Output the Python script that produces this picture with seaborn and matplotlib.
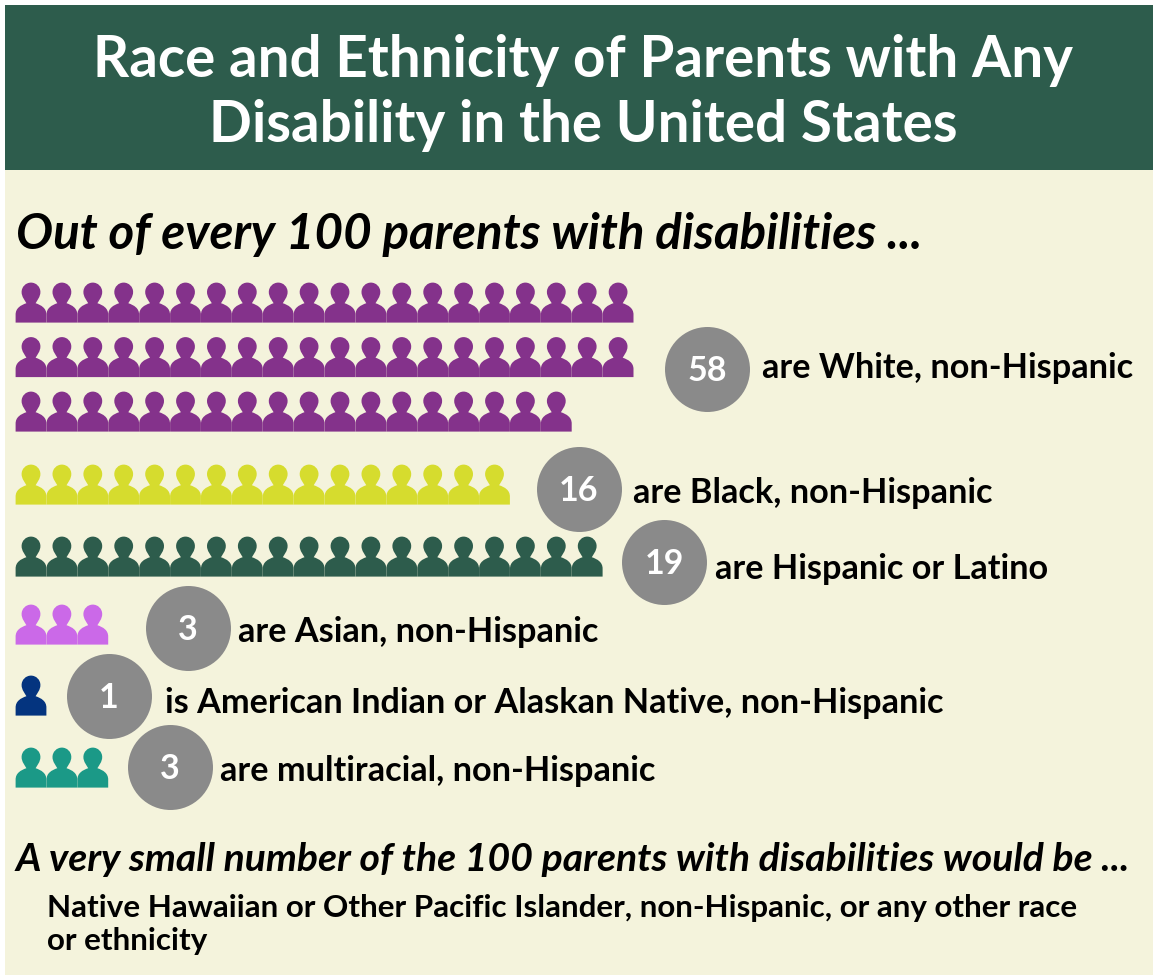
import numpy as np
import pandas as pd
import seaborn as sns
import matplotlib.pyplot as plt
from matplotlib.path import Path
from matplotlib.patches import Rectangle

# values
groups = ['White', 'Black', 'Hispanic', 'Asian', 'Native', 'Multiracial']
counts = [58, 16, 19, 3, 1, 3]
labels = ['are White, non-Hispanic', 'are Black, non-Hispanic', 'are Hispanic or Latino',
          'are Asian, non-Hispanic', 'is American Indian or Alaskan Native, non-Hispanic',
          'are multiracial, non-Hispanic']
colors = ['#84328b', '#d6dc2e', '#2d5c4c', '#cb69e8', '#04347f', '#1b9987']

# layout in pixels
row_bottoms = {'White': [323, 377.5, 432], 'Black': [505], 'Hispanic': [577],
               'Asian': [645], 'Native': [716], 'Multiracial': [788]}
bubble_x = [707, 579, 664, 188, 109, 170]
bubble_y = [369, 489, 562, 628, 696, 767]
label_x = [762, 633, 715, 238, 165, 220]
label_y = [378, 503, 579, 642, 713, 781]

# person icon
person_verts = [(-0.77, -1), (-0.77, -0.6),
                (-0.77, -0.28), (-0.52, -0.13), (-0.23, -0.03),
                (-0.3, 0.1), (-0.47, 0.28), (-0.47, 0.53),
                (-0.47, 0.79), (-0.26, 1), (0, 1),
                (0.26, 1), (0.47, 0.79), (0.47, 0.53),
                (0.47, 0.28), (0.3, 0.1), (0.23, -0.03),
                (0.52, -0.13), (0.77, -0.28), (0.77, -0.6),
                (0.77, -1), (-0.77, -1)]
person_codes = [Path.MOVETO, Path.LINETO] + [Path.CURVE4] * 18 + [Path.LINETO, Path.CLOSEPOLY]
person = Path(person_verts, person_codes)

rows = []
for g, n in zip(groups, counts):
    left = n
    for bottom in row_bottoms[g]:
        k = min(left, 20)
        for i in range(k):
            rows.append({'group': g, 'x': 31 + 30.9 * i, 'y': bottom - 20.4})
        left -= k
icons = pd.DataFrame(rows)

sns.set_style('white')
plt.rcParams['font.family'] = ['Lato', 'DejaVu Sans']

fig, ax = plt.subplots(figsize=(11.53, 9.75), dpi=100)
ax.set_position([0, 0, 1, 1])
ax.axis('off')

ax.add_patch(Rectangle((5, 170), 1148, 805, color='#f4f3dc', lw=0, zorder=0))
ax.add_patch(Rectangle((5, 5), 1148, 165, color='#2d5c4c', lw=0, zorder=0))

sns.scatterplot(data=icons, x='x', y='y', hue='group', hue_order=groups, palette=colors,
                marker=person, s=829, linewidth=0, legend=False, ax=ax, zorder=2)
sns.scatterplot(x=bubble_x, y=bubble_y, color='#8a8a8a', s=3745, linewidth=0, legend=False, ax=ax, zorder=3)

ax.set_xlim(0, 1153)
ax.set_ylim(975, 0)
ax.set_xlabel('')
ax.set_ylabel('')

for n, bx, by in zip(counts, bubble_x, bubble_y):
    ax.text(bx, by + 2, str(n), color='white', fontsize=24.5, fontweight='bold', ha='center', va='center', zorder=4)
for s, lx, ly in zip(labels, label_x, label_y):
    ax.text(lx, ly, s, color='black', fontsize=24.7, fontweight='bold', va='baseline', zorder=4)

ax.text(583, 77, 'Race and Ethnicity of Parents with Any', color='white', fontsize=40.7,
        fontweight='bold', ha='center', va='baseline')
ax.text(583, 142, 'Disability in the United States', color='white', fontsize=40.7,
        fontweight='bold', ha='center', va='baseline')
ax.text(16, 249, 'Out of every 100 parents with disabilities ...', color='black', fontsize=35.5,
        fontweight='bold', fontstyle='italic', va='baseline')
ax.text(16, 871, 'A very small number of the 100 parents with disabilities would be ...', color='black',
        fontsize=28.2, fontweight='bold', fontstyle='italic', va='baseline')
ax.text(47, 917, 'Native Hawaiian or Other Pacific Islander, non-Hispanic, or any other race', color='black',
        fontsize=22.6, fontweight='bold', va='baseline')
ax.text(47, 950, 'or ethnicity', color='black', fontsize=22.6, fontweight='bold', va='baseline')

fig.savefig('out.png', dpi=100, facecolor='white')
